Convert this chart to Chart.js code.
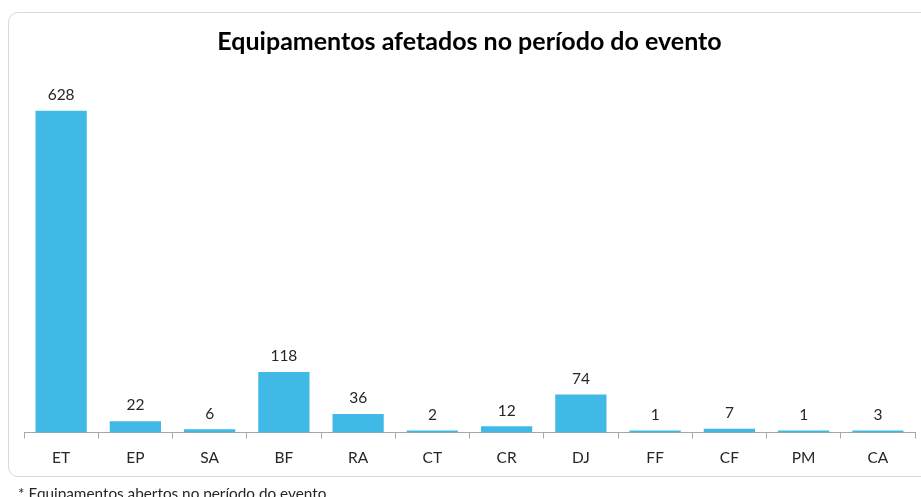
<!DOCTYPE html>
<html>
<head>
<meta charset="utf-8">
<script src="https://cdn.jsdelivr.net/npm/chart.js@4.4.1/dist/chart.umd.min.js"></script>
<style>
  html, body { margin: 0; padding: 0; width: 921px; height: 497px; overflow: hidden; background: #fff; }
  #frame { position: absolute; left: 8px; top: 12px; width: 940px; height: 465px; border: 1px solid #d9d9d9; border-radius: 10px; box-sizing: border-box; }
  #c { position: absolute; left: 0; top: 0; }
  #note { position: absolute; left: 18px; top: 484px; font-family: Lato, "Open Sans", sans-serif; font-size: 15.3px; line-height: 18px; color: #262626; white-space: nowrap; }
</style>
</head>
<body>
<div id="frame"></div>
<canvas id="c" width="921" height="497"></canvas>
<div id="note">* Equipamentos abertos no período do evento.</div>
<script>
const categories = ["ET", "EP", "SA", "BF", "RA", "CT", "CR", "DJ", "FF", "CF", "PM", "CA"];
const values = [628, 22, 6, 118, 36, 2, 12, 74, 1, 7, 1, 3];
const titleText = "Equipamentos afetados no período do evento";

const FONT = "Lato, 'Open Sans', sans-serif";

const valueLabels = {
  id: "valueLabels",
  afterDatasetsDraw(chart) {
    const ctx = chart.ctx;
    const meta = chart.getDatasetMeta(0);
    ctx.save();
    ctx.font = "15.5px " + FONT;
    ctx.fillStyle = "#262626";
    ctx.textAlign = "center";
    ctx.textBaseline = "bottom";
    meta.data.forEach((bar, i) => {
      ctx.fillText(String(values[i]), bar.x, bar.y - 8);
    });
    ctx.restore();
  }
};

new Chart(document.getElementById("c"), {
  type: "bar",
  data: {
    labels: categories,
    datasets: [{
      data: values,
      backgroundColor: "#41B9E6",
      borderWidth: 0,
      minBarLength: 2,
      categoryPercentage: 1,
      barPercentage: 0.69
    }]
  },
  options: {
    responsive: false,
    devicePixelRatio: 1,
    animation: false,
    layout: { padding: { left: 24, right: 6, top: 0, bottom: 20 } },
    plugins: {
      legend: { display: false },
      tooltip: { enabled: false },
      title: {
        display: true,
        text: titleText,
        color: "#000",
        font: { family: FONT, size: 25, weight: "bold" },
        padding: { top: 27, bottom: 17 }
      }
    },
    scales: {
      y: { display: false, min: 0, max: 700 },
      x: {
        offset: true,
        border: { display: true, color: "#a6a6a6", width: 1 },
        grid: { offset: true, drawOnChartArea: false, drawTicks: true, tickLength: 6, color: "#a6a6a6" },
        ticks: { color: "#262626", font: { family: FONT, size: 15.5 }, padding: 10, maxRotation: 0, autoSkip: false }
      }
    }
  },
  plugins: [valueLabels]
});
</script>
</body>
</html>
